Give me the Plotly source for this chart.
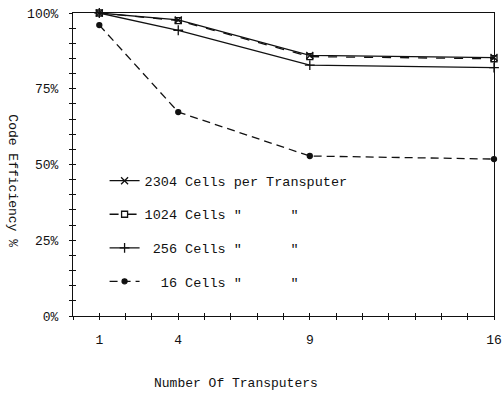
import plotly.graph_objects as go

# ---- data ----
transputers = [1, 4, 9, 16]
eff_2304 = [100, 97.7, 86.0, 85.3]
eff_1024 = [100, 97.5, 85.6, 84.9]
eff_256 = [100, 94.3, 82.8, 82.0]
eff_16 = [96.0, 67.3, 52.8, 51.8]

NB = "\u00a0"
legend_names = [
    "2304 Cells per Transputer",
    "1024 Cells" + NB + "\"" + NB * 6 + "\"",
    NB + "256 Cells" + NB + "\"" + NB * 6 + "\"",
    NB * 2 + "16 Cells" + NB + "\"" + NB * 6 + "\"",
]

x_tickvals = list(range(0, 17))
x_labelled = [1, 4, 9, 16]
y_tickvals = list(range(0, 101, 5))
y_labelled = [0, 25, 50, 75, 100]

FONT = "Liberation Mono, Courier New, monospace"
INK = "#111111"

fig = go.Figure()

series = [
    (eff_2304, legend_names[0], "solid", "x-thin-open", 7),
    (eff_1024, legend_names[1], "dash", "square-open", 6),
    (eff_256, legend_names[2], "solid", "cross-thin-open", 7),
    (eff_16, legend_names[3], "8px,5px", "circle", 5),
]
for i, (vals, name, dash, sym, size) in enumerate(series):
    fig.add_trace(go.Scatter(
        x=transputers, y=vals, name=name, mode="lines+markers",
        legendgroup=f"g{i}",
        line=dict(color=INK, width=1.3, dash=dash),
        marker=dict(symbol=sym, size=size, color=INK, line=dict(color=INK, width=1.3)),
        cliponaxis=False,
    ))

# overlay axes for inside half of cross ticks
fig.add_trace(go.Scatter(x=[None], y=[None], xaxis="x2", yaxis="y2", showlegend=False))

x_ticktext = [str(v) if v in x_labelled else "" for v in x_tickvals]
y_ticktext = [f"{v}%" if v in y_labelled else "" for v in y_tickvals]

fig.update_layout(
    width=503, height=406,
    margin=dict(l=73, r=9, t=13, b=90),
    paper_bgcolor="white", plot_bgcolor="white",
    font=dict(family=FONT, size=13, color=INK),
    xaxis=dict(range=[0, 16], tickvals=x_tickvals, ticktext=x_ticktext,
               ticks="outside", ticklen=3, tickwidth=1, tickcolor=INK,
               showline=True, linecolor=INK, linewidth=1.2, mirror=True,
               showgrid=False, zeroline=False, ticklabelstandoff=8,
               ticklabeloverflow="allow", automargin=False),
    yaxis=dict(range=[0, 100], tickvals=y_tickvals, ticktext=y_ticktext,
               ticks="outside", ticklen=3, tickwidth=1, tickcolor=INK,
               showline=True, linecolor=INK, linewidth=1.2, mirror=True,
               showgrid=False, zeroline=False, ticklabelstandoff=8,
               ticklabeloverflow="allow", automargin=False),
    xaxis2=dict(range=[0, 16], tickvals=x_tickvals, ticktext=[""] * len(x_tickvals),
                ticks="inside", ticklen=3, tickwidth=1, tickcolor=INK,
                overlaying="x", side="bottom", anchor="y2",
                showline=False, showgrid=False, zeroline=False, automargin=False),
    yaxis2=dict(range=[0, 100], tickvals=y_tickvals, ticktext=[""] * len(y_tickvals),
                ticks="inside", ticklen=3, tickwidth=1, tickcolor=INK,
                overlaying="y", side="left", anchor="x2",
                showline=False, showgrid=False, zeroline=False, automargin=False),
    legend=dict(x=0.075, y=0.497, xanchor="left", yanchor="top",
                bgcolor="rgba(0,0,0,0)", tracegroupgap=13,
                font=dict(family=FONT, size=13.5, color=INK), itemwidth=30),
    showlegend=True,
    annotations=[
        dict(text="Number Of Transputers", xref="paper", yref="paper",
             x=0.388, y=-0.222, xanchor="center", yanchor="middle", showarrow=False,
             font=dict(family=FONT, size=13, color=INK)),
        dict(text="Code Efficiency %", xref="paper", yref="paper",
             x=-0.143, y=0.445, xanchor="center", yanchor="middle", showarrow=False,
             textangle=90, font=dict(family=FONT, size=13, color=INK)),
    ],
)

fig.write_html("out.html", config={"displayModeBar": False},
               post_script="document.body.style.margin='0';document.body.style.padding='0';")
